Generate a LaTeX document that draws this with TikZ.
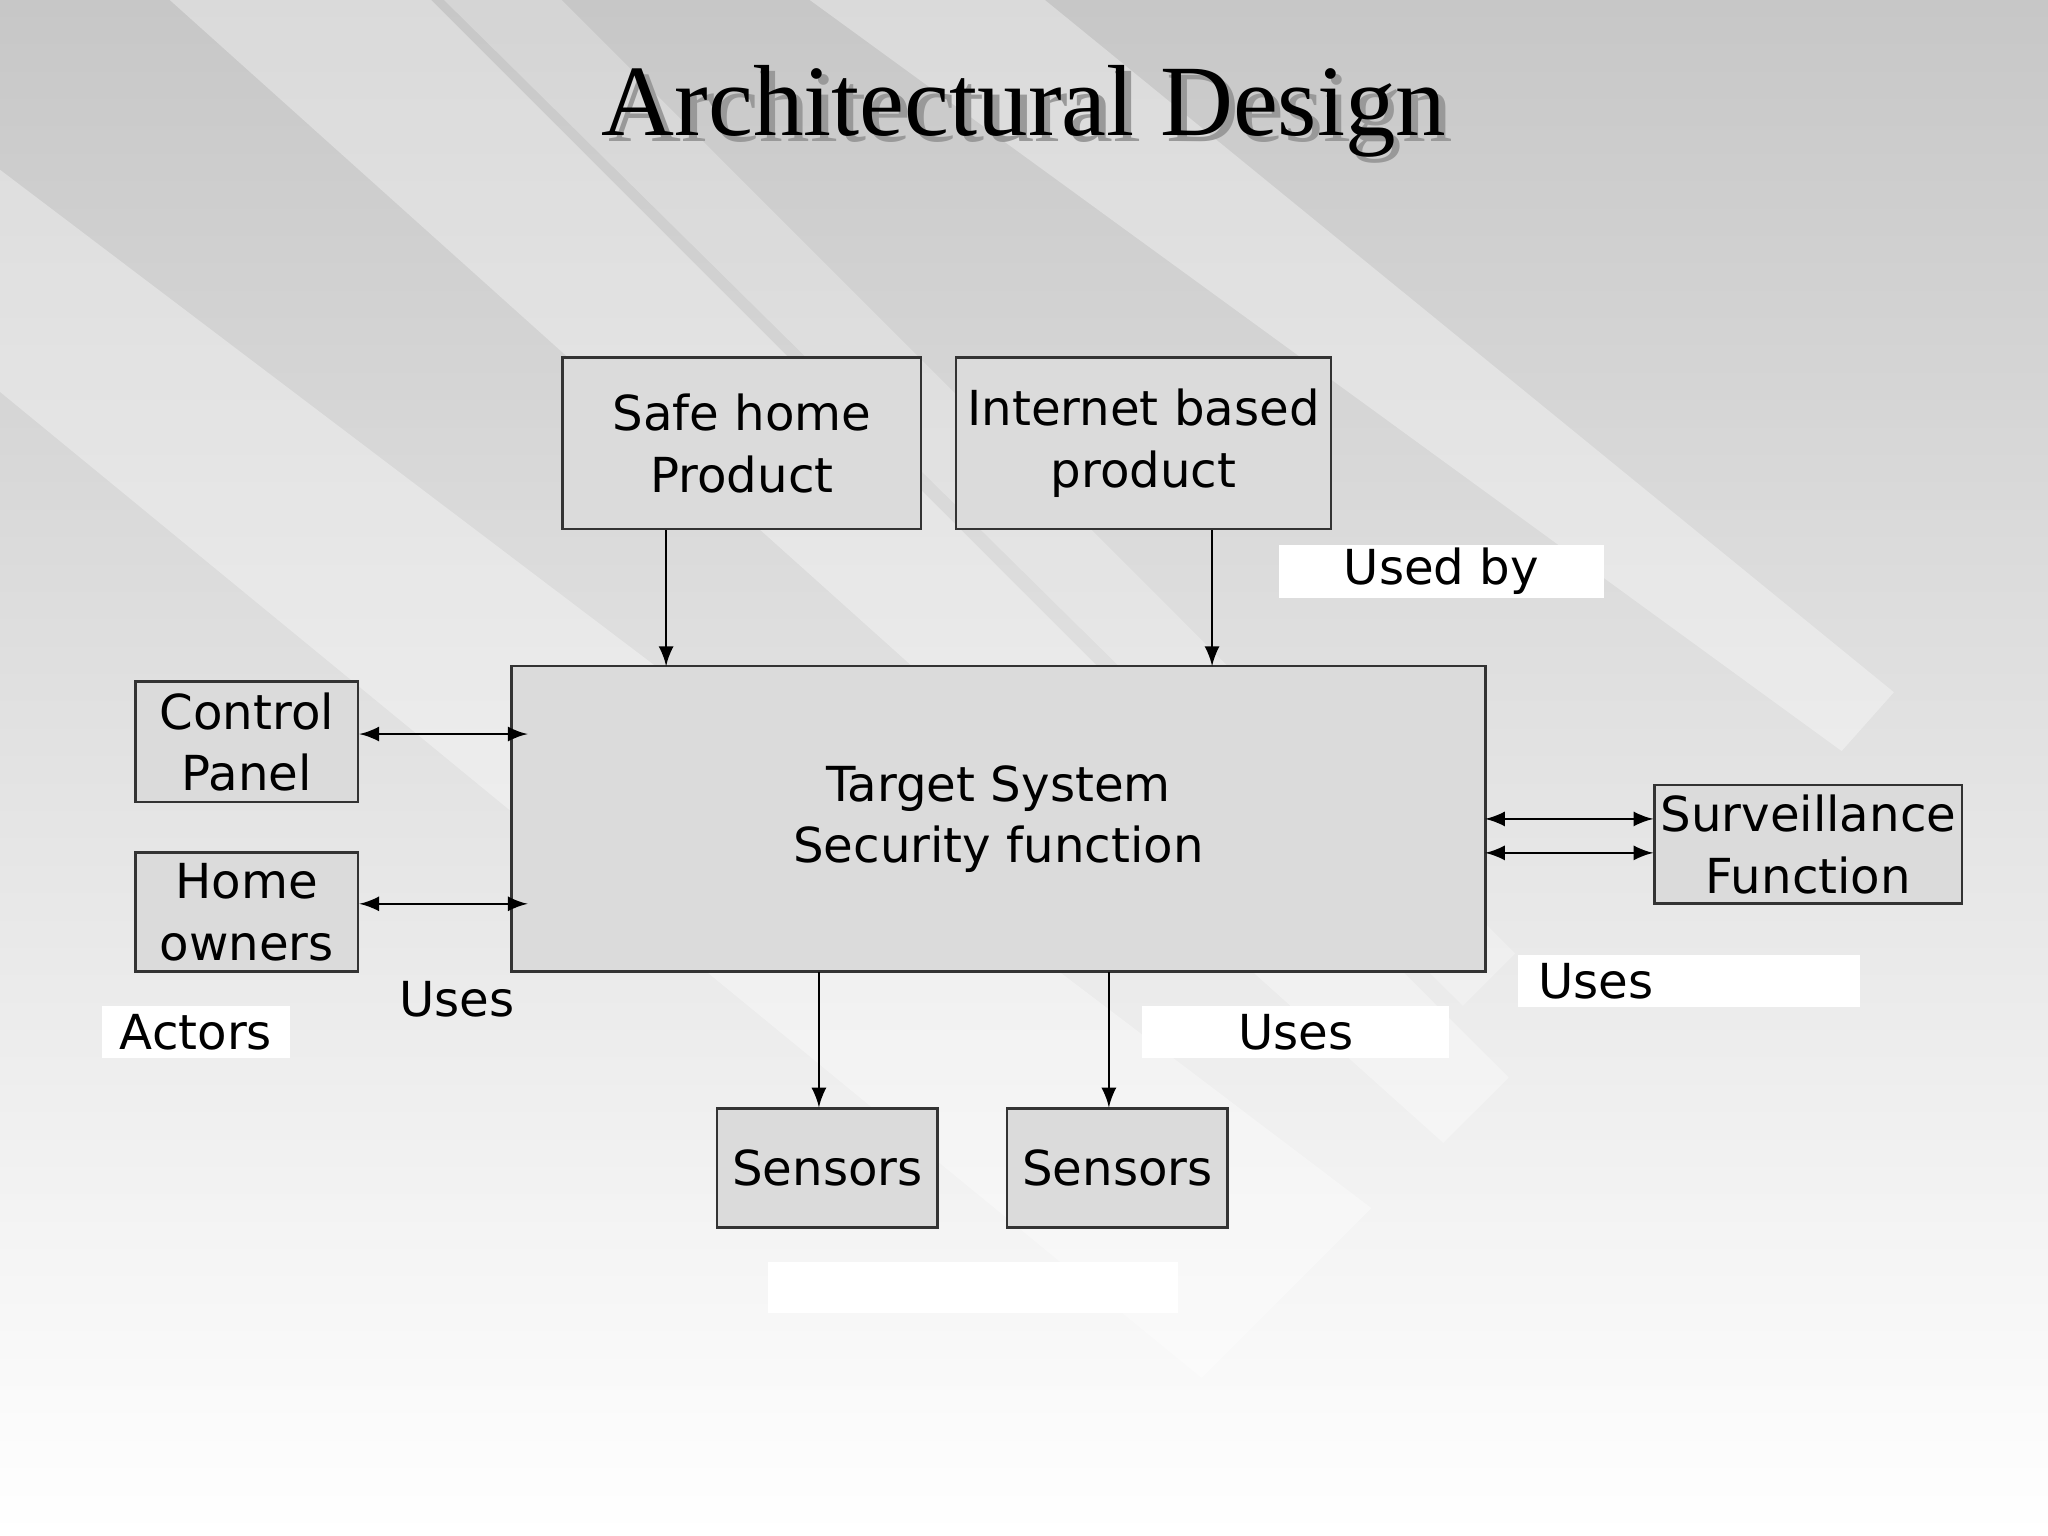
\documentclass[tikz,border=0pt]{standalone}
\usepackage{fontspec}
\setmainfont{DejaVu Sans}
\newfontfamily\titlefont{Liberation Serif}
\begin{document}
\begin{tikzpicture}[x=0.01cm,y=-0.01cm,
  box/.style={draw=black!80,fill=black!14,line width=0.6pt,inner sep=0pt,align=center,font=\fontsize{10.5pt}{13.4pt}\selectfont},
  lbl/.style={fill=white,inner sep=0pt,font=\fontsize{10.5pt}{13.4pt}\selectfont},
  ttl/.style={font=\titlefont\fontsize{22pt}{26pt}\selectfont},
  arr/.style={-latex,line width=0.5pt},
  darr/.style={latex-latex,line width=0.5pt}]
\useasboundingbox (0,0) rectangle (1568,1176);
\shade[top color=black!22,bottom color=white] (0,0) rectangle (1568,1176);
\fill[white,opacity=0.35] (130,0) -- (330,0) -- (1155,825) -- (1105,875) -- cycle;
\fill[white,opacity=0.35] (0,130) -- (0,300) -- (920,1055) -- (1050,925) -- cycle;
\fill[white,opacity=0.35] (620,0) -- (800,0) -- (1450,530) -- (1410,575) -- cycle;
\fill[white,opacity=0.25] (340,0) -- (430,0) -- (1160,730) -- (1120,770) -- cycle;
\node[ttl,text=black!40] (tshadow) at (789,90) {Architectural Design};
\node[ttl] (title) at (784,85) {Architectural Design};
\node[box,minimum width=2.74cm,minimum height=1.31cm] (safe) at (568,339.5) {Safe home\\ Product};
\node[box,minimum width=2.87cm,minimum height=1.31cm] (inet) at (875.5,339.5) {Internet based\\ product};
\node[box,minimum width=7.45cm,minimum height=2.34cm] (tgt) at (764.5,627) {Target System\\ Security function};
\node[box,minimum width=1.70cm,minimum height=0.92cm] (cp) at (189,568) {Control\\ Panel};
\node[box,minimum width=1.70cm,minimum height=0.91cm] (ho) at (189,698.5) {Home\\ owners};
\node[box,minimum width=2.35cm,minimum height=0.91cm] (sv) at (1384.5,646.5) {Surveillance\\ Function};
\node[box,minimum width=1.69cm,minimum height=0.91cm] (s1) at (633.5,894.5) {Sensors};
\node[box,minimum width=1.69cm,minimum height=0.91cm] (s2) at (855.5,894.5) {Sensors};
\node[lbl,minimum width=2.49cm,minimum height=0.41cm] (ub) at (1103.5,437.5) {Used by};
\node[lbl,minimum width=2.62cm,minimum height=0.40cm,text width=2.3cm] (u1) at (1293,751) {Uses};
\node[lbl,minimum width=2.35cm,minimum height=0.40cm] (u2) at (992,790) {Uses\hspace{0.6cm}};
\node[lbl,minimum width=1.44cm,minimum height=0.40cm] (act) at (150,790) {Actors};
\node[lbl,minimum width=3.14cm,minimum height=0.39cm] (blank) at (745,985.5) {};
\node[font=\fontsize{10.5pt}{13.4pt}\selectfont] (u3) at (350,765) {Uses};
\coordinate (t1) at (510,510); \coordinate (t2) at (928,510);
\draw[arr] (safe.south -| t1) -- (t1);
\draw[arr] (inet.south -| t2) -- (t2);
\coordinate (c1) at (404,562); \coordinate (c2) at (404,692);
\draw[darr] (cp.east |- c1) -- (c1);
\draw[darr] (ho.east |- c2) -- (c2);
\coordinate (e1) at (1137,627); \coordinate (e2) at (1137,653);
\draw[darr] (e1) -- (sv.west |- e1);
\draw[darr] (e2) -- (sv.west |- e2);
\coordinate (b1) at (627,744); \coordinate (b2) at (849,744);
\draw[arr] (b1) -- (s1.north -| b1);
\draw[arr] (b2) -- (s2.north -| b2);
\end{tikzpicture}
\end{document}
